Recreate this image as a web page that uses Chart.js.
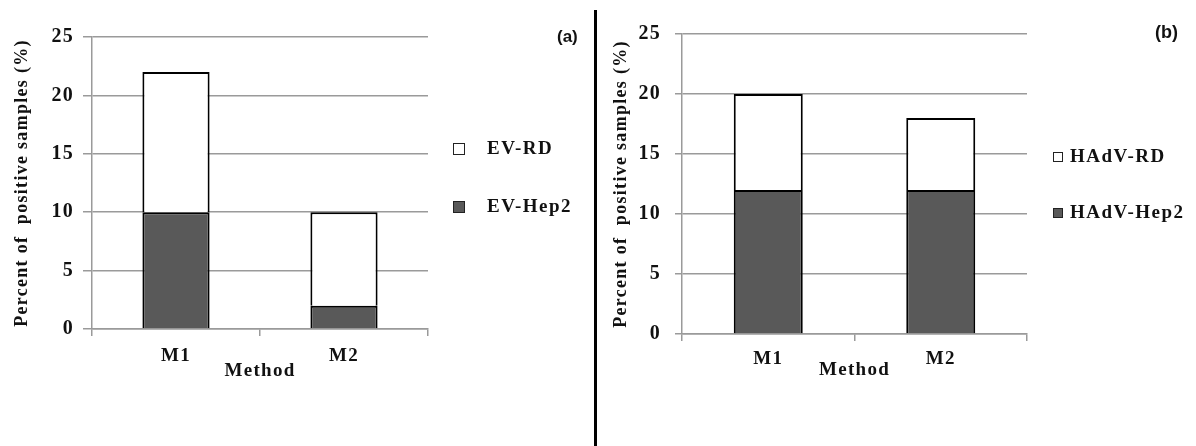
<!DOCTYPE html>
<html>
<head>
<meta charset="utf-8">
<script src="https://cdn.jsdelivr.net/npm/chart.js@4.4.0/dist/chart.umd.min.js"></script>
<style>
  body { margin: 0; background: #fff; }
  #wrap { position: relative; width: 1196px; height: 446px; overflow: hidden; }
  canvas { position: absolute; top: 0; }
  #canvas_a { left: 0; }
  #canvas_b { left: 597px; }
  #divisor { position: absolute; left: 594px; top: 10px; width: 3px; height: 436px; background: #000; }
</style>
</head>
<body>
<div id="wrap">
  <canvas id="canvas_a" width="595" height="446"></canvas>
  <div id="divisor"></div>
  <canvas id="canvas_b" width="599" height="446"></canvas>
</div>
<script>
'use strict';
var metodos    = ['M1', 'M2'],
    ticksY     = [0, 5, 10, 15, 20, 25],
    nombresEV  = ['EV-Hep2', 'EV-RD'],
    evHep2     = [10, 2],
    evRD       = [12, 8],
    nombresHAd = ['HAdV-Hep2', 'HAdV-RD'],
    hadvHep2   = [12, 12],
    hadvRD     = [8, 6];

var oscuro = '#595959',
    gris   = '#9a9a9a',
    tinta  = '#111',
    serif  = '"Liberation Serif", "Times New Roman", serif';

// separacion de letras, el original tiene texto muy espaciado
var espaciado = {
    id : 'espaciado',
    beforeUpdate : function(chart){ chart.ctx.letterSpacing = '1.3px'; },
    beforeDraw   : function(chart){ chart.ctx.letterSpacing = '1.3px'; }
};

// leyenda a la derecha y la etiqueta (a)/(b)
var leyenda = {
    id : 'leyenda',
    afterDraw : function(chart, args, opts){
        var ctx  = chart.ctx,
            area = chart.chartArea,
            ds   = chart.data.datasets.slice().reverse();
        ctx.save();
        ctx.font         = 'bold 19px ' + serif;
        ctx.textBaseline = 'middle';
        ctx.letterSpacing = '1.5px';
        ds.forEach(function(d, i){
            var y = opts.filas[i],
                x = area.right + opts.cajaX,
                c = opts.caja;
            ctx.fillStyle = d.backgroundColor;
            ctx.fillRect(x, y - c / 2, c, c);
            ctx.strokeStyle = '#222';
            ctx.lineWidth   = 1;
            ctx.strokeRect(x + 0.5, y - c / 2 + 0.5, c - 1, c - 1);
            ctx.fillStyle = tinta;
            ctx.fillText(d.label, area.right + opts.textoX, y);
        });
        ctx.letterSpacing = '0px';
        ctx.font = 'bold ' + opts.tagSize + 'px "Liberation Sans", Arial, sans-serif';
        ctx.fillText(opts.tag, opts.tagX, opts.tagY);
        ctx.restore();
    }
};

function hacerGrafica(id, nombres, hep2, rd, p){
    var fuente  = { family : serif, size : 19, weight : 'bold' },
        fuenteY = { family : serif, size : 20, weight : 'bold' };
    return new Chart(document.getElementById(id).getContext('2d'), {
        type : 'bar',
        data : {
            labels : metodos,
            datasets : [{
                label : nombres[0],
                data : hep2,
                backgroundColor : oscuro,
                borderColor : '#000',
                borderWidth : 2,
                barPercentage : 0.4,
                categoryPercentage : 1
            }, {
                label : nombres[1],
                data : rd,
                backgroundColor : '#ffffff',
                borderColor : '#000',
                borderWidth : 2,
                barPercentage : 0.4,
                categoryPercentage : 1
            }]
        },
        options : {
            responsive : false,
            animation : false,
            devicePixelRatio : 1,
            layout : { padding : { top : p.top, right : p.right, bottom : p.bottom, left : 0 } },
            plugins : {
                legend  : { display : false },
                tooltip : { enabled : false },
                leyenda : p.leyenda
            },
            scales : {
                x : {
                    stacked : true,
                    afterFit : function(s){ s.height = p.altoX; },
                    grid : { drawOnChartArea : false, tickLength : 7, color : gris, lineWidth : 1.5 },
                    border : { color : gris, width : 1.5 },
                    ticks : { padding : p.padX, color : tinta, font : fuente },
                    title : { display : true, text : 'Method', color : tinta, font : fuente, padding : { top : 0, bottom : 0 } }
                },
                y : {
                    stacked : true,
                    min : ticksY[0],
                    max : ticksY[ticksY.length - 1],
                    afterFit : function(s){ s.width = p.anchoY; },
                    grid : { color : gris, lineWidth : 1.5, tickLength : p.tickY },
                    border : { color : gris, width : 1.5 },
                    ticks : { stepSize : ticksY[1] - ticksY[0], padding : p.padY, color : tinta, font : fuenteY },
                    title : {
                        display : true,
                        text : 'Percent of  positive samples (%)',
                        color : tinta,
                        font : { family : serif, size : 18, weight : 'bold' },
                        padding : { top : p.padTitulo, bottom : 0 }
                    }
                }
            }
        },
        plugins : [espaciado, leyenda]
    });
}

window.graficaA = hacerGrafica('canvas_a', nombresEV, evHep2, evRD, {
    top : 37, right : 167, bottom : 64, altoX : 53, anchoY : 92,
    padY : 9, tickY : 9, padX : 9, padTitulo : 12,
    leyenda : { filas : [149, 207], caja : 12, cajaX : 25, textoX : 59, tag : '(a)', tagX : 557, tagY : 37, tagSize : 17 }
});

window.graficaB = hacerGrafica('canvas_b', nombresHAd, hadvHep2, hadvRD, {
    top : 34, right : 169, bottom : 65, altoX : 47, anchoY : 85,
    padY : 14, tickY : 7, padX : 7, padTitulo : 14,
    leyenda : { filas : [157, 213], caja : 10, cajaX : 26, textoX : 43, tag : '(b)', tagX : 558, tagY : 33, tagSize : 18 }
});
</script>
</body>
</html>
